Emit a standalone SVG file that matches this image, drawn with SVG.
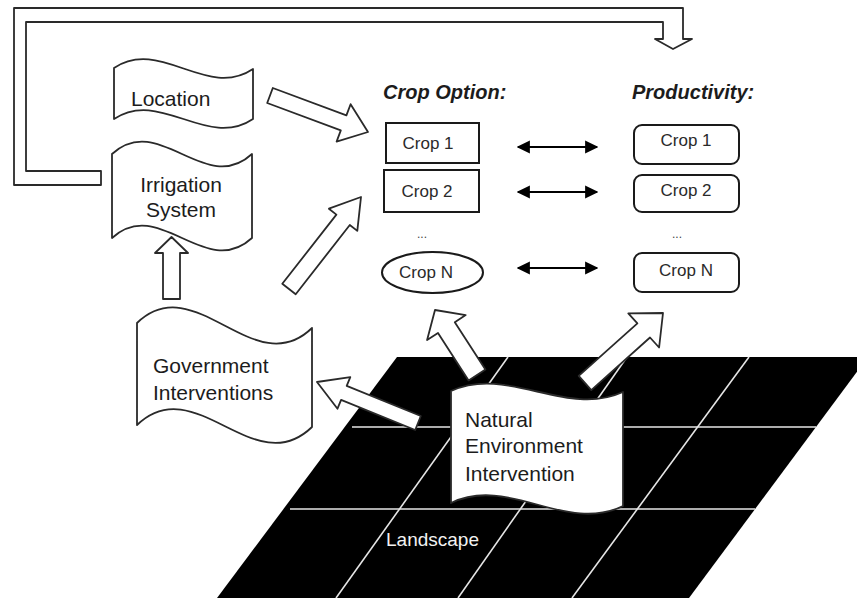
<svg xmlns="http://www.w3.org/2000/svg" width="857" height="598" viewBox="0 0 857 598">
<style>
  .shape { fill: #ffffff; stroke: #2a2a2a; stroke-width: 1.8; stroke-linejoin: round; }
  .blk { fill: #ffffff; stroke: #1a1a1a; stroke-width: 2; }
  .flagtxt { font-family: "Liberation Sans", Arial, sans-serif; font-size: 21px; fill: #1c1c1c; }
  .croptxt { font-family: "Liberation Sans", Arial, sans-serif; font-size: 17px; fill: #2a2a2a; }
  .hdr { font-family: "Liberation Sans", Arial, sans-serif; font-size: 20px; font-weight: bold; font-style: italic; fill: #1c1c1c; }
  .dots { font-family: "Liberation Sans", Arial, sans-serif; font-size: 12px; fill: #444; }
  .grid { stroke: #e6e6e6; stroke-width: 1.6; fill: none; }
  .dbl { stroke: #000; stroke-width: 2.2; fill: none; marker-start: url(#ah); marker-end: url(#ah); }
</style>
<defs>
  <marker id="ah" viewBox="0 0 10 10" refX="9" refY="5" markerWidth="6" markerHeight="6" orient="auto-start-reverse" markerUnits="strokeWidth">
    <path d="M0,0 L10,5 L0,10 Z" fill="#000"/>
  </marker>
</defs>
<rect width="857" height="598" fill="#ffffff"/>

<g id="landscape">
  <polygon points="397,357 868,357 689,598 217,598" fill="#000"/>
  <line class="grid" x1="352" y1="427" x2="816" y2="427"/>
  <line class="grid" x1="290" y1="509" x2="755" y2="509"/>
  <line class="grid" x1="508" y1="357" x2="336" y2="598"/>
  <line class="grid" x1="627" y1="357" x2="458" y2="598"/>
  <line class="grid" x1="749" y1="357" x2="572" y2="598"/>
  <text x="386" y="546" font-family="Liberation Sans, Arial, sans-serif" font-size="19" fill="#f2f2f2">Landscape</text>
</g>

<g id="connectors">
  <polygon class="shape" points="14,8 683,8 683,39 692,39 673,49 655,39 663,39 663,22 26,22 26,171 101,171 101,185 14,185"/>
  <polygon class="shape" points="272.8,88 346.4,115.4 350.6,104.2 368,132 336.6,141.6 340.8,130.4 267.2,103"/>
  <polygon class="shape" points="282.3,283.8 336.4,214.6 328.9,208.7 361,197 357.3,230.9 349.8,225 295.7,294.2"/>
  <polygon class="shape" points="163,299 163,253 155,253 171.5,237 188,253 180,253 180,299"/>
  <polygon class="shape" points="420.8,416 346.7,385.9 350.3,377.1 317,382 337.5,408.7 341.1,399.9 415.2,430"/>
  <polygon class="shape" points="485.4,369.6 454.8,322.2 465.7,315.1 435,310 427.1,340.1 438,333 468.6,380.4"/>
  <polygon class="shape" points="578.7,375.9 637.4,323.3 628.3,313.3 663,313 659.1,347.5 650,337.5 591.3,390.1"/>
  <line class="dbl" x1="518" y1="147" x2="597" y2="147"/>
  <line class="dbl" x1="518" y1="192" x2="597" y2="192"/>
  <line class="dbl" x1="518" y1="268" x2="597" y2="268"/>
</g>

<g id="location">
  <path class="shape" d="M114,68 C160,37 207,100 253,69 L253,119 C207,150 160,88 114,119 Z"/>
  <text class="flagtxt" x="131" y="106">Location</text>
</g>

<g id="irrigation">
  <path class="shape" d="M112,154 C159,111 205,197 252,154 L252,238 C205,281 159,195 112,238 Z"/>
  <text class="flagtxt" x="181" y="192" text-anchor="middle">Irrigation</text>
  <text class="flagtxt" x="181" y="217" text-anchor="middle">System</text>
</g>

<g id="government">
  <path class="shape" d="M137,323 C195,267 254,384 312,328 L312,427 C254,483 195,369 137,425 Z"/>
  <text class="flagtxt" x="153" y="373">Government</text>
  <text class="flagtxt" x="153" y="400">Interventions</text>
</g>

<g id="natural">
  <path class="shape" d="M451,391 C508,365 566,418 623,392 L623,506 C566,534 508,475 451,503 Z"/>
  <text class="flagtxt" x="465" y="427">Natural</text>
  <text class="flagtxt" x="465" y="453">Environment</text>
  <text class="flagtxt" x="465" y="481">Intervention</text>
</g>

<g id="crop-option">
  <text class="hdr" x="383" y="99">Crop Option:</text>
  <g id="option-crop1">
    <rect class="blk" x="386" y="123" width="93" height="40"/>
    <text class="croptxt" x="428" y="149" text-anchor="middle">Crop 1</text>
  </g>
  <g id="option-crop2">
    <rect class="blk" x="384" y="170" width="95" height="42"/>
    <text class="croptxt" x="427" y="197" text-anchor="middle">Crop 2</text>
  </g>
  <text class="dots" x="422" y="238" text-anchor="middle">...</text>
  <g id="option-cropN">
    <ellipse class="blk" cx="432.5" cy="272.5" rx="50.5" ry="20.5"/>
    <text class="croptxt" x="426" y="278" text-anchor="middle">Crop N</text>
  </g>
</g>

<g id="productivity">
  <text class="hdr" x="632" y="99">Productivity:</text>
  <g id="prod-crop1">
    <rect class="blk" x="634" y="125" width="105" height="39" rx="8"/>
    <text class="croptxt" x="686" y="146" text-anchor="middle">Crop 1</text>
  </g>
  <g id="prod-crop2">
    <rect class="blk" x="634" y="175" width="105" height="37" rx="8"/>
    <text class="croptxt" x="686" y="196" text-anchor="middle">Crop 2</text>
  </g>
  <text class="dots" x="677" y="238" text-anchor="middle">...</text>
  <g id="prod-cropN">
    <rect class="blk" x="634" y="253" width="105" height="39" rx="8"/>
    <text class="croptxt" x="686" y="276" text-anchor="middle">Crop N</text>
  </g>
</g>
</svg>
